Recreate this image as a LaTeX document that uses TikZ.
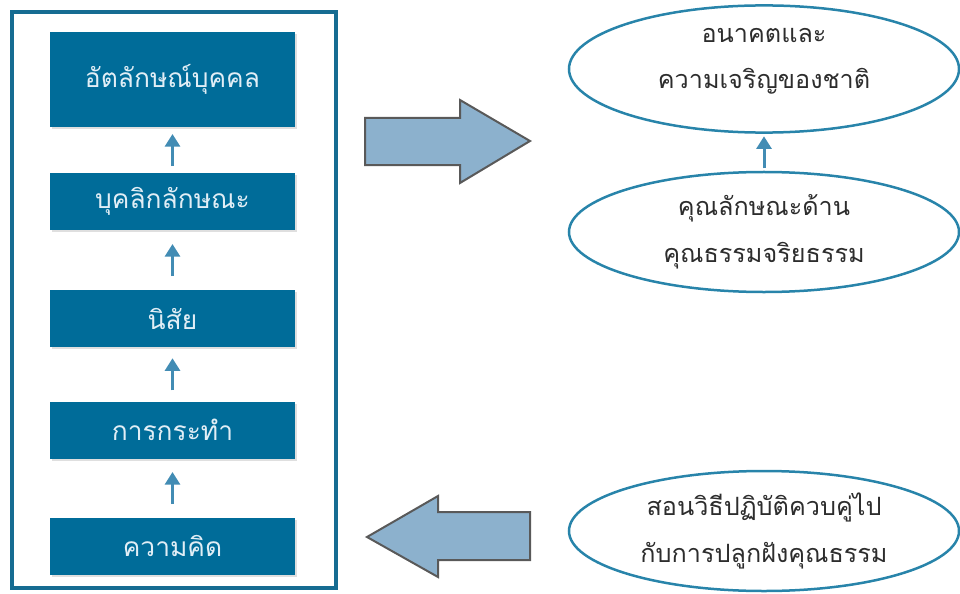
\documentclass[tikz,border=0pt]{standalone}
\usepackage{fontspec}
\usepackage{tikz}
\usetikzlibrary{shapes.geometric,shadows,arrows.meta,calc}
\newfontfamily\thaifont[Script=Thai]{Loma}

\definecolor{boxblue}{RGB}{0,108,153}
\definecolor{framebl}{RGB}{22,108,146}
\definecolor{smallar}{RGB}{66,140,180}
\definecolor{bigfill}{RGB}{140,177,205}
\definecolor{ellline}{RGB}{40,132,170}
\definecolor{txtgray}{RGB}{45,45,45}
\definecolor{boxtext}{RGB}{225,238,246}

\tikzset{
  stepbox/.style={rectangle, fill=boxblue, text=boxtext, minimum width=7.35cm,
    minimum height=1.71cm, font=\thaifont\fontsize{22.5}{27}\selectfont,
    drop shadow={opacity=0.25, shadow xshift=0.06cm, shadow yshift=-0.06cm}},
  upar/.style={-{Triangle[length=0.38cm,width=0.45cm]}, smallar, line width=0.09cm},
  goal/.style={ellipse, draw=ellline, line width=0.075cm, minimum width=11.7cm,
    minimum height=3.6cm, align=center, text=txtgray,
    font=\thaifont\fontsize{21.5}{40}\selectfont},
  bigarrow/.style={fill=bigfill, draw=black!65, line width=0.06cm, line join=miter}
}

\begin{document}
\begin{tikzpicture}[x=0.03cm, y=-0.03cm]
  \useasboundingbox (0,0) rectangle (960,594);

  % กรอบด้านซ้าย
  \draw[framebl, line width=0.12cm] (12,12) rectangle (336,588);

  % ขั้นตอนจากความคิดถึงอัตลักษณ์
  \node[stepbox, minimum height=2.85cm] (ident) at (172.5,79.5) {อัตลักษณ์บุคคล};
  \node[stepbox] (person) at (172.5,201.5) {บุคลิกลักษณะ};
  \node[stepbox] (habit) at (172.5,318.5) {นิสัย};
  \node[stepbox] (act) at (172.5,430) {การกระทำ};
  \node[stepbox] (think) at (172.5,546) {ความคิด};

  % ลูกศรสั้นตรงกลางช่องว่าง
  \foreach \a/\b in {think/act, act/habit, habit/person, person/ident}
    \draw[upar] ($(\a.north)!.5!(\b.south)+(0,16)$) -- ++(0,-32);

  % วงรีด้านขวา
  \node[goal] (future) at (764,69) {อนาคตและ\\ความเจริญของชาติ\\[-22pt]\mbox{}};
  \node[goal] (moral) at (764,232) {คุณลักษณะด้าน\\คุณธรรมจริยธรรม};
  \node[goal] (teach) at (764,531) {สอนวิธีปฏิบัติควบคู่ไป\\กับการปลูกฝังคุณธรรม};
  \draw[upar] ($(moral.north)!.5!(future.south)+(0,16)$) -- ++(0,-32);

  % ลูกศรใหญ่
  \draw[bigarrow] (365,118) -- (460,118) -- (460,100) -- (530,141)
    -- (460,183) -- (460,165) -- (365,165) -- cycle;
  \draw[bigarrow] (530,512) -- (438,512) -- (438,496) -- (367,537)
    -- (438,577) -- (438,560) -- (530,560) -- cycle;
\end{tikzpicture}
\end{document}
